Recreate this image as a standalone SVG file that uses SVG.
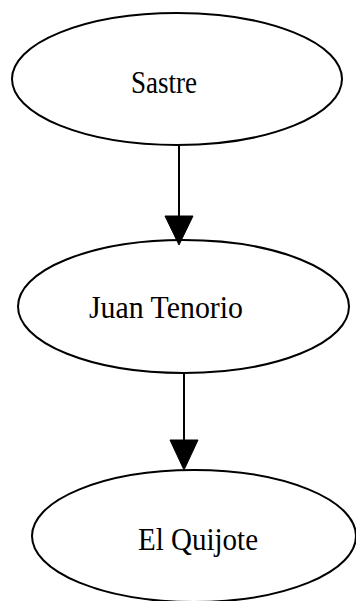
<svg xmlns="http://www.w3.org/2000/svg" width="356" height="601" viewBox="0 0 356 601">
  <style>
    .node ellipse { fill: #ffffff; stroke: #000000; stroke-width: 2; }
    .node text { font-family: "Liberation Serif", "Times New Roman", serif; font-size: 32px; fill: #000000; text-anchor: middle; }
    .edge line { stroke: #000000; stroke-width: 2; }
    .edge polygon { fill: #000000; stroke: #000000; stroke-width: 1; }
  </style>
  <rect width="356" height="601" fill="#ffffff"/>

  <g id="node-sastre" class="node">
    <ellipse cx="177" cy="79" rx="165" ry="66"/>
    <text x="164" y="93" textLength="66" lengthAdjust="spacingAndGlyphs">Sastre</text>
  </g>

  <g id="node-juan-tenorio" class="node">
    <ellipse cx="183.5" cy="306.5" rx="165.5" ry="66.5"/>
    <text x="166" y="318" textLength="154" lengthAdjust="spacingAndGlyphs">Juan Tenorio</text>
  </g>

  <g id="node-el-quijote" class="node">
    <ellipse cx="194" cy="536" rx="162" ry="66"/>
    <text x="198" y="550" textLength="120" lengthAdjust="spacingAndGlyphs">El Quijote</text>
  </g>

  <g id="connectors" class="edge">
    <line x1="179" y1="146" x2="179" y2="217"/>
    <polygon points="165,216 193,216 179,245"/>
    <line x1="184" y1="373" x2="184" y2="441"/>
    <polygon points="170,440 198,440 184,470"/>
  </g>
</svg>
